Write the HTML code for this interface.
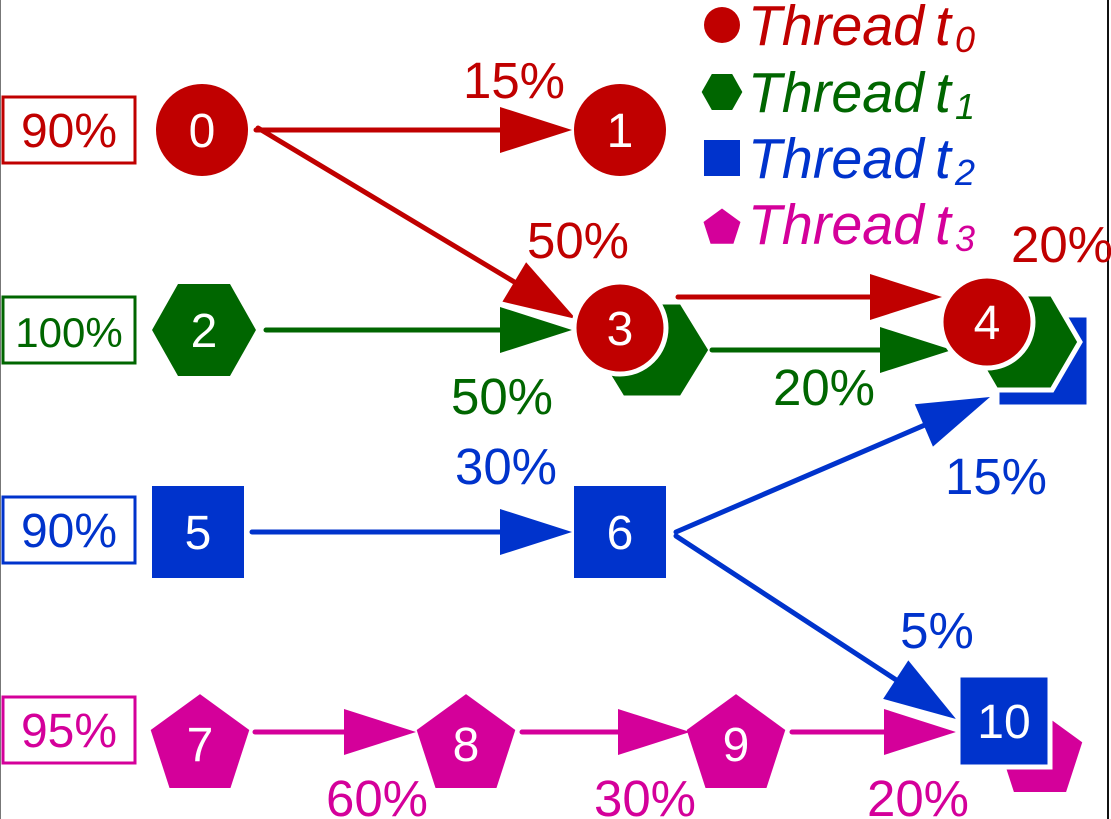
<!DOCTYPE html>
<html><head><meta charset="utf-8"><style>
html,body{margin:0;padding:0;background:#fff}
svg{display:block;font-family:"Liberation Sans",Arial,sans-serif}
</style></head><body>
<svg id="g" width="1111" height="819" viewBox="0 0 1111 819" xmlns="http://www.w3.org/2000/svg">
<line x1="0.5" y1="0" x2="0.5" y2="819" stroke="#777" stroke-width="1"/>
<line x1="1108" y1="0" x2="1108" y2="819" stroke="#111" stroke-width="2"/>
</svg>
<script>
const C={r:'#c00000',g:'#006600',b:'#0033cc',m:'#d4009a'};
const boxLabels=['90%','100%','90%','95%'];
const boxColors=['r','g','b','m'];
const boxY=[97,297,497,697];
const nodeIds=['0','1','2','3','4','5','6','7','8','9','10'];
const nodeShapes=['circle','circle','hex','circle','circle','square','square','pent','pent','pent','square'];
const nodeX=[202,620,204,620,987,198,620,200,466,736,1004];
const nodeY=[130,130,330,328,322,532,532,742,742,742,721];
const edgeFrom=[[256,130],[258,128],[266,330],[678,297],[712,350],[252,532],[676,532],[676,536],[255,732],[522,732],[792,732]];
const edgeTo=[[572,130],[576,319],[572,330],[942,297],[952,350],[572,532],[990,397],[956,719],[416,732],[690,732],[956,732]];
const edgeColors=['r','r','g','r','g','b','b','b','m','m','m'];
const edgeLabels=['15%','50%','50%','20%','20%','30%','15%','5%','60%','30%','20%'];
const labelPos=[[514,98],[578,258],[502,414],[1062,262],[824,405],[506,484],[996,494],[937,648],[377,816],[645,816],[918,816]];
const legendNames=['Thread','Thread','Thread','Thread'];
const legendSubs=['0','1','2','3'];
const legendY=[25,92,158,224];

const svg=document.getElementById('g');
const NS='http://www.w3.org/2000/svg';
function mk(t,a,p){const e=document.createElementNS(NS,t);for(const k in a)e.setAttribute(k,a[k]);(p||svg).appendChild(e);return e;}
function hexPts(cx,cy,w,h){return [[cx-w/2,cy],[cx-w/4,cy-h/2],[cx+w/4,cy-h/2],[cx+w/2,cy],[cx+w/4,cy+h/2],[cx-w/4,cy+h/2]].map(p=>p.join(',')).join(' ');}
function pentPts(cx,cy,r){let s=[];for(let i=0;i<5;i++){const a=-Math.PI/2+i*2*Math.PI/5;s.push([cx+r*Math.cos(a),cy+r*Math.sin(a)].join(','));}return s.join(' ');}
function shape(kind,x,y,col,sz,stroke,w){
  let e;
  if(kind==='circle')e=mk('circle',{cx:x,cy:y,r:sz,fill:col});
  else if(kind==='hex')e=mk('polygon',{points:hexPts(x,y,w||sz*2.26,sz*2),fill:col});
  else if(kind==='square')e=mk('rect',{x:x-sz,y:y-sz,width:sz*2,height:sz*2,fill:col});
  else e=mk('polygon',{points:pentPts(x,y+4,sz*1.08),fill:col});
  if(stroke){e.setAttribute('stroke','#fff');e.setAttribute('stroke-width',5);}
  return e;
}

boxLabels.forEach((t,i)=>{
  const gr=mk('g',{});
  
  
  mk('rect',{x:3,y:boxY[i],width:132,height:66,fill:'#fff',stroke:C[boxColors[i]],'stroke-width':3},gr);
  mk('text',{x:69,y:boxY[i]+50,'text-anchor':'middle','font-size':t.length>3?42:48,fill:C[boxColors[i]]},gr).textContent=t;
});

const bgs=[['hex',652,350,C.g,48,118],['square',1043,361,C.b,46,0],['hex',1024,342,C.g,48,112],['pent',1040,752,C.m,44,0]];
bgs.forEach((b,i)=>{const e=shape(b[0],b[1],b[2],b[3],b[4],true,b[5]);
  
  });

edgeFrom.forEach((f,i)=>{
  const t=edgeTo[i],col=C[edgeColors[i]];
  const dx=t[0]-f[0],dy=t[1]-f[1],L=Math.hypot(dx,dy),ux=dx/L,uy=dy/L;
  const bx=t[0]-ux*72,by=t[1]-uy*72;
  const gr=mk('g',{});
  
  
  mk('line',{x1:f[0],y1:f[1],x2:bx+ux*5,y2:by+uy*5,stroke:col,'stroke-width':5,'stroke-linecap':'round'},gr);
  mk('polygon',{points:[t,[bx-uy*23,by+ux*23],[bx+uy*23,by-ux*23]].map(p=>p.join(',')).join(' '),fill:col},gr);
  const lb=mk('text',{x:labelPos[i][0],y:labelPos[i][1],'text-anchor':'middle','font-size':51,fill:col});
  lb.textContent=edgeLabels[i];
  
  
});

nodeIds.forEach((id,i)=>{
  const col=i<=1||i===3||i===4?C.r:i===2?C.g:i<=6||i===10?C.b:C.m;
  const gr=mk('g',{});
  
  
  const sz=nodeShapes[i]==='pent'?48:46;
  const e=shape(nodeShapes[i],nodeX[i],nodeY[i],col,sz,i===3||i===4||i===10);
  gr.appendChild(e);
  mk('text',{x:nodeX[i],y:nodeY[i]+(nodeShapes[i]==='pent'?19:17),'text-anchor':'middle','font-size':48,fill:'#fff'},gr).textContent=id;
});

const lcols=[C.r,C.g,C.b,C.m],lsh=['circle','hex','square','pent'];
legendNames.forEach((n,i)=>{
  const gr=mk('g',{});
  
  
  gr.appendChild(shape(lsh[i],722,legendY[i],lcols[i],18,false));
  mk('text',{x:748,y:legendY[i]+20,'font-size':57,'font-style':'italic',fill:lcols[i],textLength:176,lengthAdjust:'spacingAndGlyphs'},gr).textContent=n;
  mk('text',{x:935,y:legendY[i]+20,'font-size':57,'font-style':'italic',fill:lcols[i]},gr).textContent='t';
  mk('text',{x:955,y:legendY[i]+27,'font-size':36,'font-style':'italic',fill:lcols[i]},gr).textContent=legendSubs[i];
});
</script>
</body></html>
